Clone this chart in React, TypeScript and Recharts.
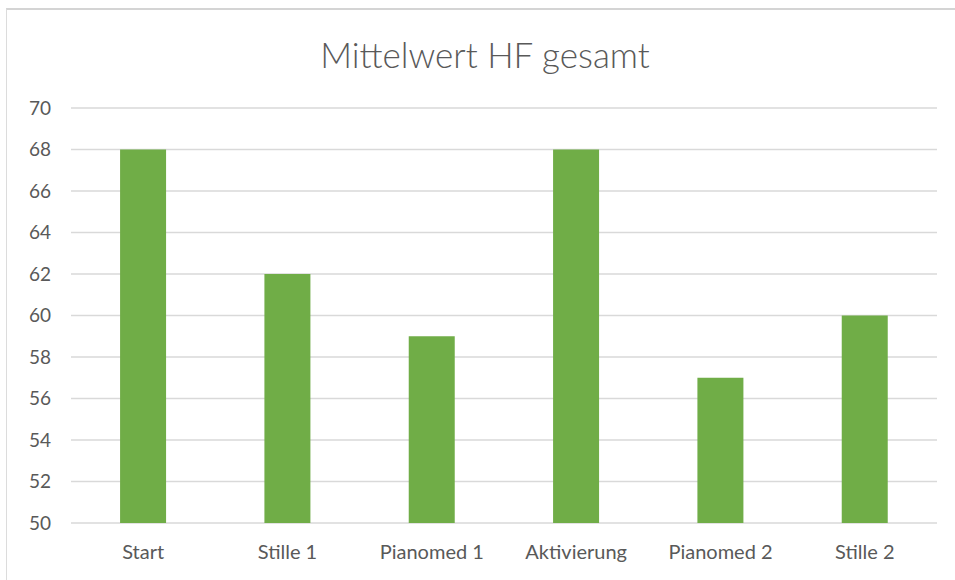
import { Bar, BarChart, CartesianGrid, XAxis, YAxis } from "recharts";

const categories = ["Start", "Stille 1", "Pianomed 1", "Aktivierung", "Pianomed 2", "Stille 2"];
const hfValues = [68, 62, 59, 68, 57, 60];
const yTicks = [50, 52, 54, 56, 58, 60, 62, 64, 66, 68, 70];

const chartData = categories.map((name, i) => ({ name, hf: hfValues[i] }));

const FONT = "Lato, 'Open Sans', sans-serif";
const TEXT = "#595959";

export default function App() {
  return (
    <div
      style={{
        position: "absolute",
        left: 0,
        top: 0,
        width: 955,
        height: 580,
        background: "#fff",
        fontFamily: FONT,
      }}
    >
      <div
        style={{
          position: "absolute",
          left: 6,
          top: 8,
          right: 0,
          bottom: 0,
          borderTop: "2px solid #d4d4d4",
          borderLeft: "1px solid #dcdcdc",
        }}
      />
      <div
        style={{
          position: "absolute",
          left: 0,
          width: 970,
          top: 33,
          textAlign: "center",
          fontSize: 35,
          color: TEXT,
          fontWeight: 300,
        }}
      >
        Mittelwert HF gesamt
      </div>
      <div style={{ position: "absolute", left: 0, top: 0 }}>
        <BarChart
          width={955}
          height={580}
          data={chartData}
          margin={{ top: 108, right: 18, left: 0, bottom: 0 }}
          barCategoryGap="34%"
        >
          <CartesianGrid vertical={false} stroke="#d9d9d9" strokeWidth={1.5} />
          <XAxis
            dataKey="name"
            height={57}
            axisLine={false}
            tickLine={false}
            tickSize={0}
            tickMargin={22}
            tick={{ fontSize: 20, fill: TEXT, fontFamily: FONT }}
            interval={0}
          />
          <YAxis
            width={71}
            domain={[50, 70]}
            ticks={yTicks}
            axisLine={false}
            tickLine={false}
            tickSize={0}
            tickMargin={20}
            tick={{ fontSize: 19, fill: TEXT, fontFamily: FONT }}
            interval={0}
          />
          <Bar dataKey="hf" fill="#70ad47" isAnimationActive={false} />
        </BarChart>
      </div>
    </div>
  );
}
